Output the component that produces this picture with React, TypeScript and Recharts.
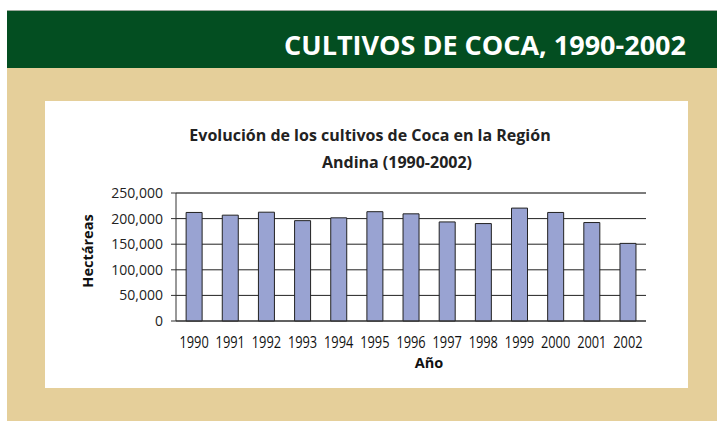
import { BarChart, Bar, XAxis, YAxis, CartesianGrid, ReferenceLine, Label } from 'recharts';

const years = ['1990', '1991', '1992', '1993', '1994', '1995', '1996', '1997', '1998', '1999', '2000', '2001', '2002'];
const hectares = [212000, 206700, 212500, 196000, 201500, 213500, 209300, 193500, 190300, 220500, 212000, 192300, 151600];
const yTicks = [0, 50000, 100000, 150000, 200000, 250000];
const boundaryTicks = [0, 1, 2, 3, 4, 5, 6, 7, 8, 9, 10, 11, 12, 13];

const data = years.map((y, i) => ({ year: y, value: hectares[i] }));

const font = '"Open Sans", sans-serif';

function YearTick(props: any) {
  const { x, y, payload } = props;
  return (
    <text
      x={x}
      y={y + 27}
      textAnchor="middle"
      fontFamily={font}
      fontSize={16}
      fill="#111"
      transform={`translate(${x},0) scale(0.8,1) translate(${-x},0)`}
    >
      {payload.value}
    </text>
  );
}

export default function App() {
  return (
    <div style={{ position: 'absolute', left: 0, top: 0, width: 717, height: 421, background: '#fff', overflow: 'hidden' }}>
      {/* green banner */}
      <div style={{ position: 'absolute', left: 7, top: 10, width: 710, height: 58, background: '#034e21', borderTop: '1px solid #9aa89c', boxSizing: 'border-box' }} />
      {/* beige frame */}
      <div style={{ position: 'absolute', left: 7, top: 68, width: 710, height: 353, background: '#e5cf9a' }} />
      {/* white panel */}
      <div style={{ position: 'absolute', left: 45, top: 101, width: 643, height: 287, background: '#fff' }}>
        <BarChart width={643} height={287} data={data} margin={{ top: 92, right: 42, bottom: 0, left: 0 }} barCategoryGap="28%">
          <CartesianGrid vertical={false} stroke="#222" strokeWidth={1} />
          <XAxis
            xAxisId="bounds"
            type="number"
            domain={[0, 13]}
            ticks={boundaryTicks}
            allowDataOverflow
            tickFormatter={() => ''}
            tickSize={5}
            tickLine={{ stroke: '#333' }}
            axisLine={false}
            height={0}
          />
          <XAxis
            dataKey="year"
            tick={<YearTick />}
            tickLine={false}
            tickSize={0}
            tickMargin={0}
            interval={0}
            axisLine={{ stroke: '#333' }}
            height={67}
          >
            <Label
              content={({ viewBox }: any) => (
                <text x={viewBox.x + viewBox.width / 2 + 18} y={viewBox.y + 47} textAnchor="middle" fontFamily={font} fontWeight={700} fontSize={14.5} fill="#111">
                  Año
                </text>
              )}
            />
          </XAxis>
          <YAxis
            domain={[0, 250000]}
            ticks={yTicks}
            width={131}
            tickSize={5}
            tickMargin={8}
            tickLine={{ stroke: '#333' }}
            axisLine={{ stroke: '#333' }}
            tick={{ fontFamily: font, fontSize: 14, fill: '#222' }}
            tickFormatter={(v: number) => v.toLocaleString('en-US')}
          >
            <Label
              content={({ viewBox }: any) => {
                const cx = viewBox.x + 42;
                const cy = viewBox.y + viewBox.height / 2 - 6;
                return (
                  <text x={cx} y={cy} textAnchor="middle" dominantBaseline="central" transform={`rotate(-90 ${cx} ${cy})`} fontFamily={font} fontWeight={700} fontSize={14.5} fill="#111">
                    Hectáreas
                  </text>
                );
              }}
            />
          </YAxis>
          <ReferenceLine xAxisId="bounds" x={13} stroke="#888" />
          <ReferenceLine xAxisId="bounds" y={250000} stroke="#666" ifOverflow="extendDomain" />
          <Bar dataKey="value" fill="#99a3d2" stroke="#222" strokeWidth={1} isAnimationActive={false} />
        </BarChart>
      </div>
      {/* titles */}
      <svg width={717} height={421} style={{ position: 'absolute', left: 0, top: 0, pointerEvents: 'none' }}>
        <text x={686} y={55} textAnchor="end" fontFamily={font} fontWeight={700} fontSize={27} fill="#fff">
          CULTIVOS DE COCA, 1990-2002
        </text>
        <text x={370} y={141} textAnchor="middle" fontFamily={font} fontWeight={700} fontSize={16} fill="#222">
          Evolución de los cultivos de Coca en la Región
        </text>
        <text x={397} y={168} textAnchor="middle" fontFamily={font} fontWeight={700} fontSize={16} fill="#222">
          Andina (1990-2002)
        </text>
      </svg>
    </div>
  );
}
